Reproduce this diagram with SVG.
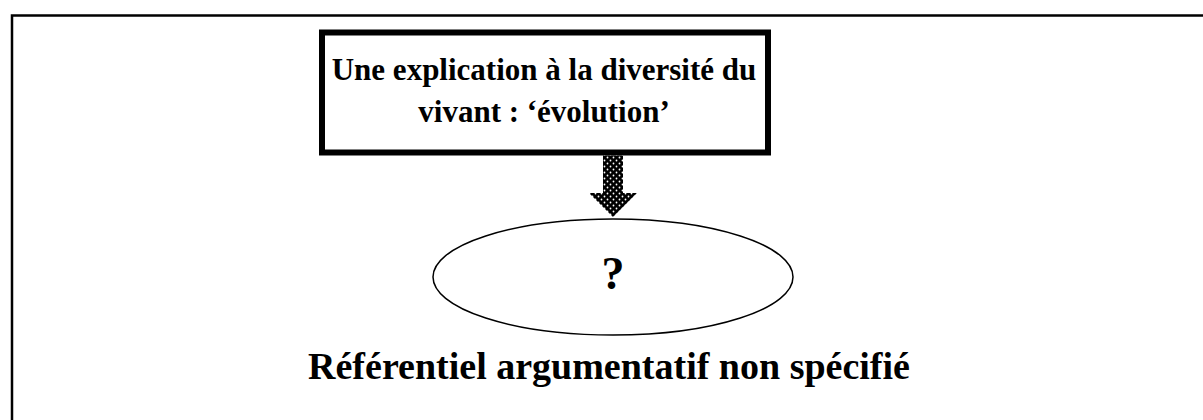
<svg xmlns="http://www.w3.org/2000/svg" width="1203" height="420" viewBox="0 0 1203 420">
<defs>
<style>
.t{font-family:"Liberation Serif","Times New Roman",serif;font-weight:bold;fill:#000;text-anchor:middle}
</style>
<pattern id="dots" width="6" height="6" patternUnits="userSpaceOnUse">
<rect width="6" height="6" fill="#000"/>
<circle cx="1.5" cy="1.5" r="0.9" fill="#fff"/>
<circle cx="4.5" cy="4.5" r="0.9" fill="#fff"/>
</pattern>
</defs>
<rect width="1203" height="420" fill="#fff"/>
<g id="frame">
<path d="M12 440 V15.5 H1220" fill="none" stroke="#000" stroke-width="2.5"/>
</g>
<g id="box">
<rect x="322" y="32.5" width="446" height="120" fill="#fff" stroke="#000" stroke-width="6"/>
<text class="t" x="544" y="80" font-size="31">Une explication à la diversité du</text>
<text class="t" x="544" y="122" font-size="31">vivant : ‘évolution’</text>
</g>
<g id="connectors">
<path d="M603 155.5 H623 V193 H637 L613 217 L589 193 H603 Z" fill="url(#dots)"/>
</g>
<g id="ellipse">
<ellipse cx="613" cy="277" rx="180" ry="58" fill="#fff" stroke="#000" stroke-width="1.5"/>
<text class="t" x="613" y="289" font-size="46">?</text>
</g>
<g id="caption">
<text class="t" x="609" y="379" font-size="38">Référentiel argumentatif non spécifié</text>
</g>
</svg>
